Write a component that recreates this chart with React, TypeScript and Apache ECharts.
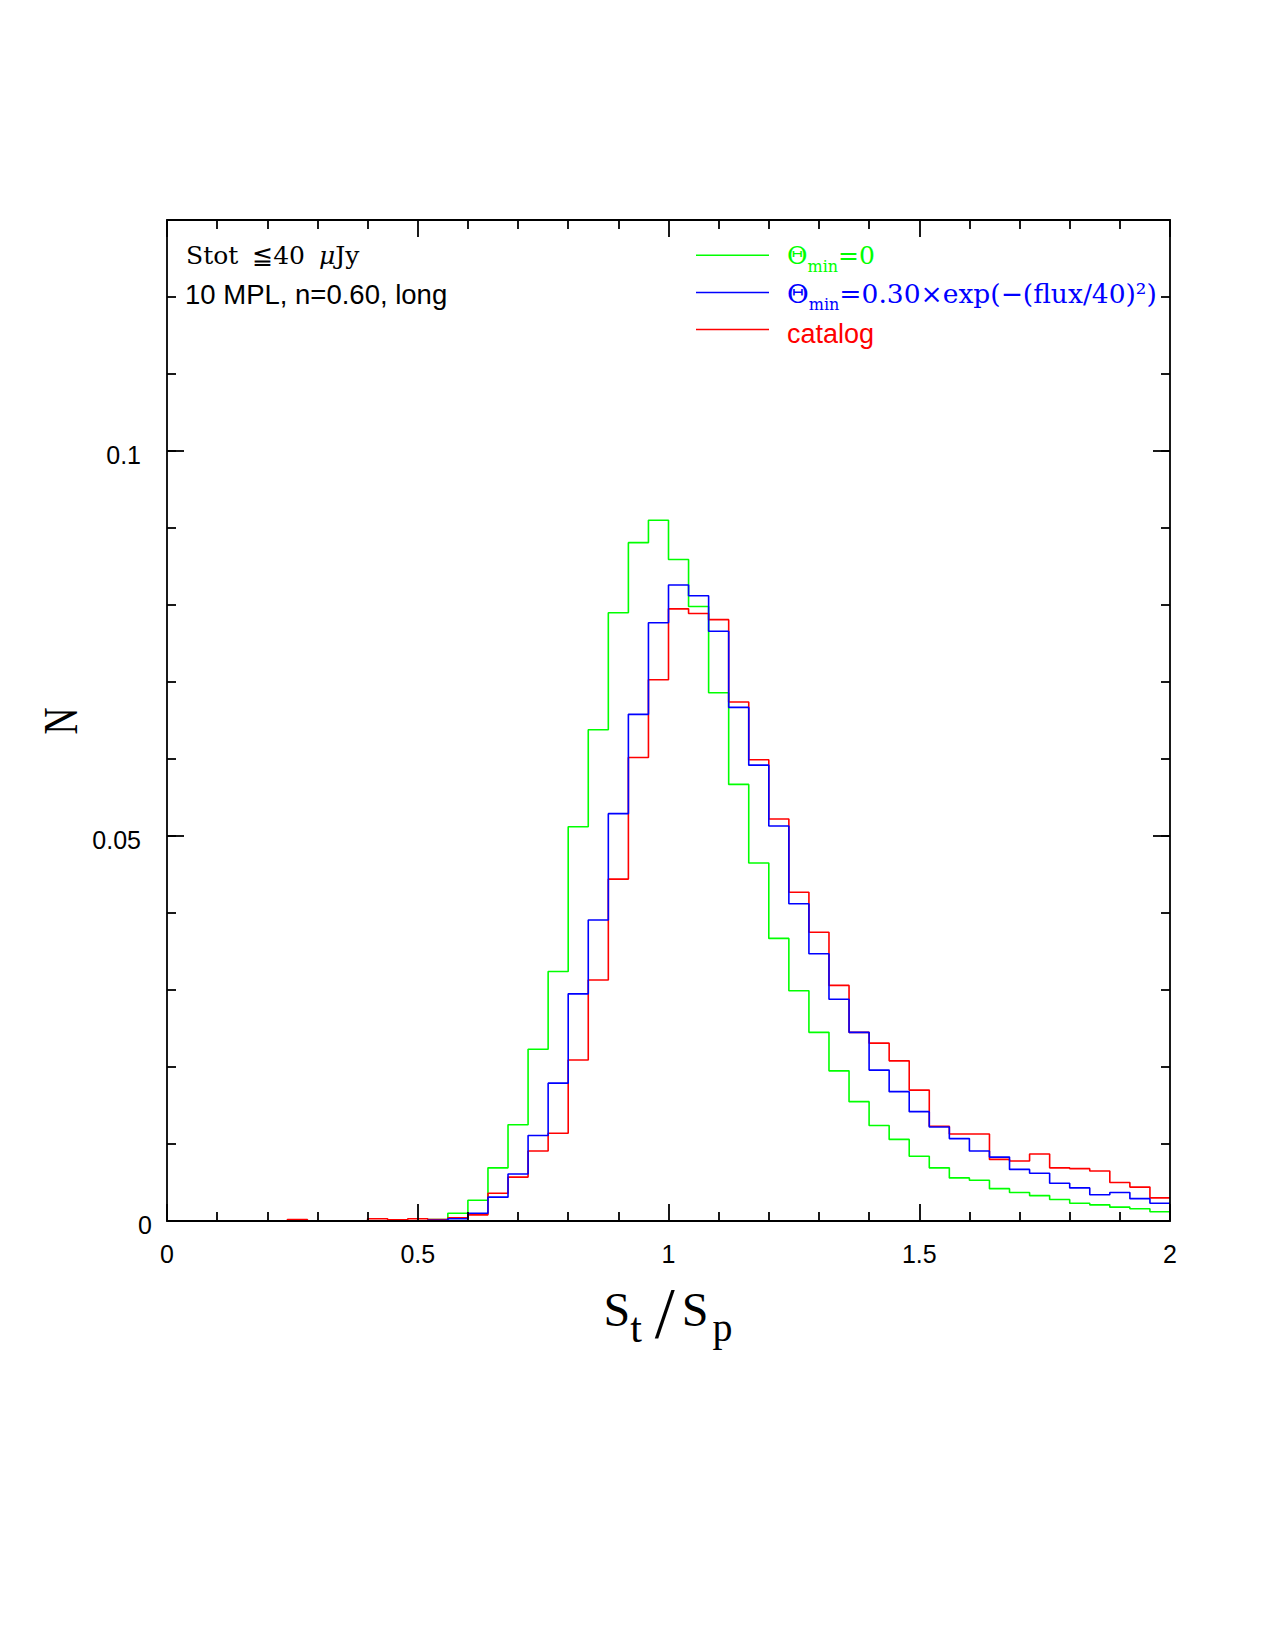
import React, { useEffect, useRef } from "react";
import * as echarts from "echarts";

// Histogram of St/Sp, 50 bins of width 0.04 between 0 and 2
const BIN_WIDTH = 0.04;

const thetaZero = [
  0, 0, 0, 0, 0, 0, 0, 0, 0, 0,
  0, 0, 0, 0.0002, 0.001, 0.0027, 0.0069, 0.0125, 0.0223, 0.0324,
  0.0512, 0.0638, 0.079, 0.0881, 0.091, 0.0859, 0.0798, 0.0686, 0.0567, 0.0465,
  0.0367, 0.0299, 0.0245, 0.0195, 0.0155, 0.0124, 0.0106, 0.0084, 0.0069, 0.0056,
  0.0053, 0.0042, 0.0037, 0.0033, 0.0028, 0.0023, 0.0021, 0.0018, 0.0016, 0.0012,
];

const thetaFlux = [
  0, 0, 0, 0, 0, 0, 0, 0, 0, 0,
  0, 0, 0, 0.0001, 0.0003, 0.001, 0.0031, 0.0061, 0.0111, 0.0179,
  0.0295, 0.0391, 0.0529, 0.0658, 0.0777, 0.0826, 0.0812, 0.0766, 0.0667, 0.0592,
  0.0513, 0.0412, 0.0347, 0.0288, 0.0245, 0.0196, 0.0168, 0.0142, 0.0122, 0.0107,
  0.0091, 0.0083, 0.0067, 0.0062, 0.0049, 0.0043, 0.0034, 0.0037, 0.0029, 0.0023,
];

const catalog = [
  0, 0, 0, 0, 0, 0, 0.0002, 0, 0, 0,
  0.0003, 0.00015, 0.0003, 0.0002, 0.0004, 0.0008, 0.0036, 0.0057, 0.0091, 0.0114,
  0.0209, 0.0313, 0.0444, 0.0602, 0.0703, 0.0795, 0.0789, 0.0781, 0.0674, 0.0599,
  0.0522, 0.0427, 0.0375, 0.0306, 0.0245, 0.0231, 0.0208, 0.017, 0.0123, 0.0113,
  0.0113, 0.008, 0.0078, 0.0087, 0.0069, 0.0068, 0.0065, 0.005, 0.0044, 0.003,
];

const xTickLabels = ["0", "0.5", "1", "1.5", "2"];
const yTickLabels = ["0", "0.05", "0.1"];

const GREEN = "#00ff00";
const BLUE = "#0000ff";
const RED = "#ff0000";

const SANS = "'Liberation Sans', Arial, Helvetica, sans-serif";
const SERIF = "'Liberation Serif', 'Times New Roman', serif";
const MATH = "'DejaVu Serif', serif";

// left edges of every bin plus the closing right edge, for step drawing
function stepData(values: number[]) {
  const pts = values.map((v, i) => [Number((i * BIN_WIDTH).toFixed(2)), v]);
  pts.push([Number((values.length * BIN_WIDTH).toFixed(2)), values[values.length - 1]]);
  return pts;
}

function labelFor(list: string[], v: number) {
  const hit = list.find((s) => Math.abs(Number(s) - v) < 1e-9);
  return hit === undefined ? "" : hit;
}

const FRAME = { show: true, onZero: false, lineStyle: { color: "#000", width: 1.8 } };
const NO_LINE = { show: false, onZero: false };
const MAJOR_TICK = { show: true, inside: true, length: 17, lineStyle: { color: "#000", width: 1.8 } };
const MINOR_TICK = { show: true, inside: true, length: 9, lineStyle: { color: "#000", width: 1.8 } };

export default function App() {
  const ref = useRef<HTMLDivElement>(null);

  useEffect(() => {
    if (!ref.current) return;
    const chart = echarts.init(ref.current, null, { renderer: "svg" });

    const xCommon = {
      type: "value",
      min: 0,
      max: 2,
      interval: 0.5,
      z: 5,
      axisLine: FRAME,
      axisTick: MAJOR_TICK,
      minorTick: { ...MINOR_TICK, splitNumber: 5 },
      splitLine: { show: false },
      minorSplitLine: { show: false },
    };

    const yCommon = {
      type: "value",
      min: 0,
      max: 0.13,
      z: 5,
      splitLine: { show: false },
    };

    const subTok = (fill: string) => ({
      fontFamily: MATH,
      fontSize: 16,
      fill,
      padding: [22, 0, 0, 0],
    });
    const mainTok = (fill: string, size: number) => ({ fontFamily: MATH, fontSize: size, fill });

    chart.setOption({
      animation: false,
      backgroundColor: "#ffffff",
      grid: { left: 167, top: 220, width: 1003, height: 1001, containLabel: false },
      xAxis: [
        {
          ...xCommon,
          position: "bottom",
          axisLabel: {
            show: true,
            margin: 20,
            color: "#000",
            fontFamily: SANS,
            fontSize: 25,
            formatter: (v: number) => labelFor(xTickLabels, v),
          },
        },
        { ...xCommon, position: "top", axisLabel: { show: false } },
      ],
      yAxis: [
        {
          ...yCommon,
          position: "left",
          interval: 0.05,
          axisLine: FRAME,
          axisTick: MAJOR_TICK,
          axisLabel: {
            show: true,
            margin: 15,
            showMaxLabel: false,
            formatter: (v: number) => {
              const s = labelFor(yTickLabels, v);
              if (!s) return "";
              return v === 0 ? `{z|${s}}` : `{n|${s}}`;
            },
            rich: {
              z: { fontFamily: SANS, fontSize: 25, color: "#000", padding: [8, 0, 0, 0] },
              n: { fontFamily: SANS, fontSize: 25, color: "#000", padding: [8, 11, 0, 0] },
            },
          },
        },
        {
          ...yCommon,
          position: "right",
          interval: 0.05,
          axisLine: FRAME,
          axisTick: MAJOR_TICK,
          axisLabel: { show: false },
        },
        {
          ...yCommon,
          position: "left",
          interval: 0.01,
          axisLine: NO_LINE,
          axisTick: MINOR_TICK,
          axisLabel: { show: false },
        },
        {
          ...yCommon,
          position: "right",
          interval: 0.01,
          axisLine: NO_LINE,
          axisTick: MINOR_TICK,
          axisLabel: { show: false },
        },
      ],
      series: [
        {
          name: "Θmin=0",
          type: "line",
          step: "end",
          symbol: "none",
          data: stepData(thetaZero),
          lineStyle: { color: GREEN, width: 1.6 },
          z: 2,
        },
        {
          name: "catalog",
          type: "line",
          step: "end",
          symbol: "none",
          data: stepData(catalog),
          lineStyle: { color: RED, width: 1.6 },
          z: 3,
        },
        {
          name: "Θmin=0.30×exp(−(flux/40)²)",
          type: "line",
          step: "end",
          symbol: "none",
          data: stepData(thetaFlux),
          lineStyle: { color: BLUE, width: 1.6 },
          z: 4,
        },
      ],
      graphic: [
        // annotations in the upper left corner
        {
          type: "text",
          x: 186,
          y: 255.5,
          style: {
            text: "{a|Stot }{g|≦40 }{i|μ}{a|Jy}",
            align: "left",
            verticalAlign: "middle",
            rich: {
              a: { fontFamily: MATH, fontSize: 25, fill: "#000" },
              g: { fontFamily: MATH, fontSize: 25, fill: "#000", padding: [0, 0, 0, 6] },
              i: { fontFamily: MATH, fontSize: 25, fontStyle: "italic", fill: "#000", padding: [0, 0, 0, 6] },
            },
          },
        },
        {
          type: "text",
          x: 185,
          y: 294,
          style: {
            text: "10 MPL, n=0.60, long",
            align: "left",
            verticalAlign: "middle",
            fontFamily: SANS,
            fontSize: 27.5,
            fill: "#000",
          },
        },
        // legend
        { type: "line", shape: { x1: 696, y1: 255.2, x2: 769, y2: 255.2 }, style: { stroke: GREEN, lineWidth: 1.6 } },
        { type: "line", shape: { x1: 696, y1: 292.5, x2: 769, y2: 292.5 }, style: { stroke: BLUE, lineWidth: 1.6 } },
        { type: "line", shape: { x1: 696, y1: 329.5, x2: 769, y2: 329.5 }, style: { stroke: RED, lineWidth: 1.6 } },
        {
          type: "text",
          x: 787,
          y: 255.5,
          style: {
            text: "{a|Θ}{s|min}{a|=0}",
            align: "left",
            verticalAlign: "middle",
            rich: { a: mainTok(GREEN, 25), s: subTok(GREEN) },
          },
        },
        {
          type: "text",
          x: 787,
          y: 293,
          style: {
            text: "{a|Θ}{s|min}{a|=0.30×exp(−(flux/40)²)}",
            align: "left",
            verticalAlign: "middle",
            rich: { a: mainTok(BLUE, 26.5), s: subTok(BLUE) },
          },
        },
        {
          type: "text",
          x: 787,
          y: 334,
          style: {
            text: "catalog",
            align: "left",
            verticalAlign: "middle",
            fontFamily: SANS,
            fontSize: 27,
            fill: RED,
          },
        },
        // axis titles
        {
          type: "text",
          x: 603.5,
          y: 1309.5,
          style: {
            text: "{m|S}{b|t}{sl|/}{m|S}{p|p}",
            align: "left",
            verticalAlign: "middle",
            rich: {
              m: { fontFamily: SERIF, fontSize: 48, fill: "#000" },
              b: { fontFamily: SERIF, fontSize: 42, fill: "#000", padding: [36, 0, 0, 0] },
              sl: { fontFamily: SERIF, fontSize: 72, fill: "#000", padding: [6, 7, 0, 13] },
              p: { fontFamily: SERIF, fontSize: 40, fill: "#000", padding: [36, 0, 0, 4] },
            },
          },
        },
        {
          type: "text",
          x: 60.5,
          y: 721,
          rotation: Math.PI / 2,
          scaleX: 0.78,
          style: {
            text: "N",
            align: "center",
            verticalAlign: "middle",
            fontFamily: SERIF,
            fontSize: 48,
            fill: "#000",
          },
        },
      ],
    });

    return () => chart.dispose();
  }, []);

  return (
    <div
      ref={ref}
      style={{ position: "absolute", left: 0, top: 0, width: 1275, height: 1650, background: "#fff" }}
    />
  );
}
